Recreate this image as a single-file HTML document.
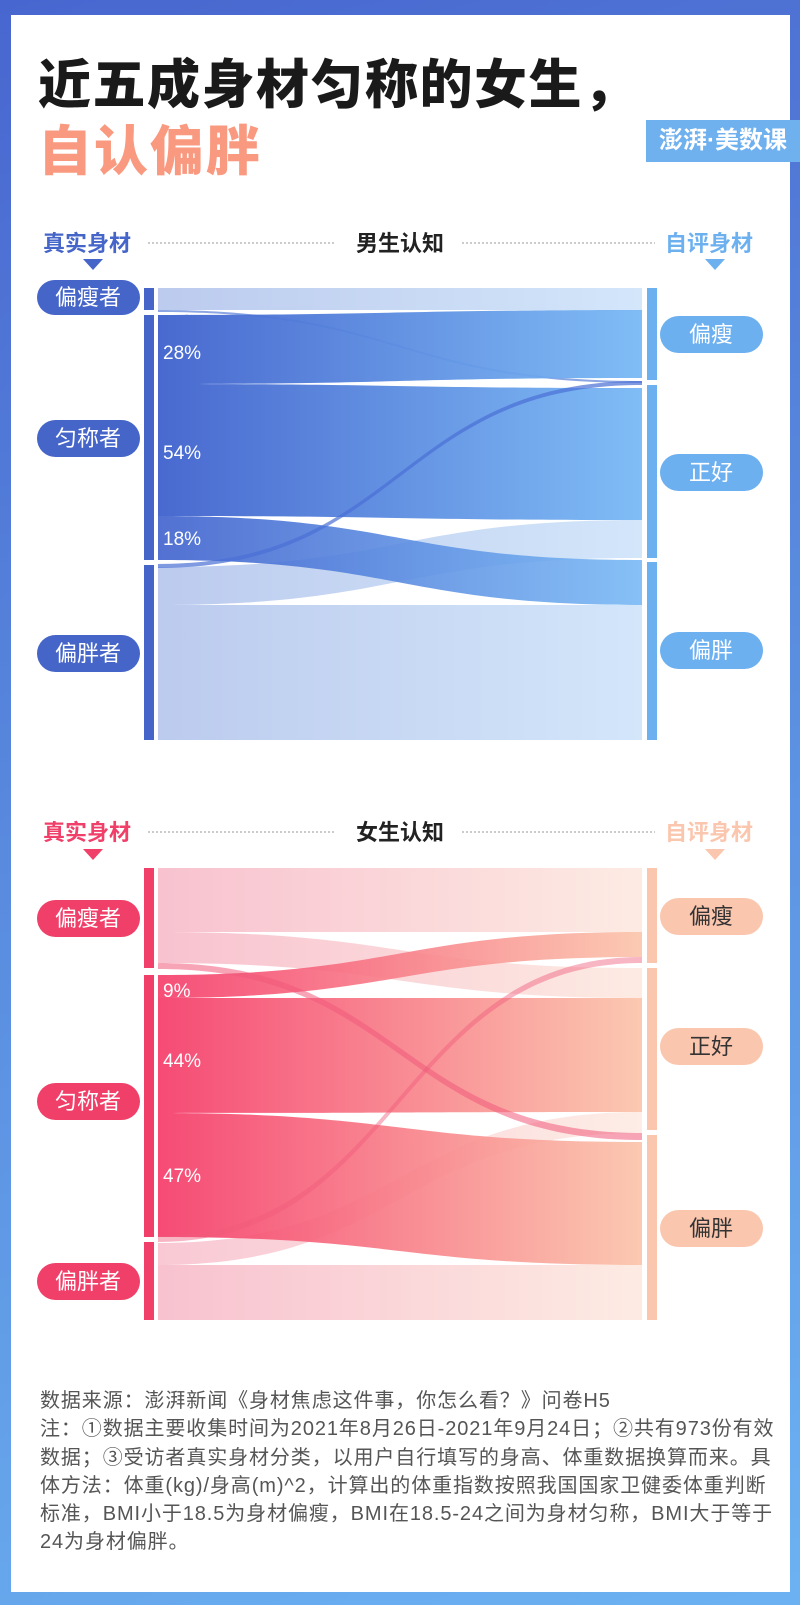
<!DOCTYPE html>
<html><head><meta charset="utf-8">
<style>
html,body{margin:0;padding:0;}
body{width:800px;height:1605px;overflow:hidden;background:linear-gradient(160deg,#4866cf 0%,#5a8ee0 50%,#6cb2f2 100%);position:relative;font-family:"Liberation Sans","Noto Sans CJK SC",sans-serif;}
.card{position:absolute;left:11px;top:15px;width:779px;height:1577px;background:#fff;}
.t1{position:absolute;left:38px;top:43px;font-size:53px;font-weight:900;color:#1a1a1a;letter-spacing:1.5px;white-space:nowrap;}
.t2{position:absolute;left:38px;top:107px;font-size:54px;font-weight:900;color:#f99a80;letter-spacing:2px;}
.logo{position:absolute;left:646px;top:120px;width:154px;height:42px;background:#6fb0ee;color:#fff;font-size:24px;line-height:42px;text-align:center;font-weight:bold;}
.foot{position:absolute;left:40px;top:1387px;font-size:20px;line-height:28.3px;color:#555;white-space:nowrap;letter-spacing:0.9px;}
svg{position:absolute;left:0;top:0;}
</style></head><body>
<div class="card"></div>
<div class="t1">近五成身材匀称的女生，</div>
<div class="t2">自认偏胖</div>
<div class="logo">澎湃·美数课</div>
<svg width="800" height="1605" viewBox="0 0 800 1605" font-family="Liberation Sans, Noto Sans CJK SC, sans-serif">
<defs>
<linearGradient id="bd" x1="0" x2="1"><stop offset="0" stop-color="#3f61cd"/><stop offset="1" stop-color="#79b9f5"/></linearGradient>
<linearGradient id="bl" x1="0" x2="1"><stop offset="0" stop-color="#bccbee"/><stop offset="1" stop-color="#d3e6fa"/></linearGradient>
<linearGradient id="pd" x1="0" x2="1"><stop offset="0" stop-color="#f53b69"/><stop offset="1" stop-color="#fbc4aa"/></linearGradient>
<linearGradient id="pl" x1="0" x2="1"><stop offset="0" stop-color="#f8c2cf"/><stop offset="1" stop-color="#fdebe3"/></linearGradient>
</defs>
<text x="43" y="251" font-size="22" font-weight="bold" fill="#4565c8">真实身材</text>
<line x1="148" y1="243" x2="335" y2="243" stroke="#999" stroke-dasharray="2,2"/>
<text x="400" y="251" font-size="22" font-weight="bold" fill="#222" text-anchor="middle">男生认知</text>
<line x1="462" y1="243" x2="655" y2="243" stroke="#999" stroke-dasharray="2,2"/>
<text x="665" y="251" font-size="22" font-weight="bold" fill="#6cb0f0">自评身材</text>
<polygon points="83,259 103,259 93,270" fill="#4565c8"/>
<polygon points="705,259 725,259 715,270" fill="#6cb0f0"/>
<rect x="144" y="288" width="10" height="22" fill="#4565c8"/>
<rect x="144" y="315" width="10" height="245" fill="#4565c8"/>
<rect x="144" y="565" width="10" height="175" fill="#4565c8"/>
<rect x="647" y="288" width="10" height="92" fill="#6cb0f0"/>
<rect x="647" y="385" width="10" height="173" fill="#6cb0f0"/>
<rect x="647" y="562" width="10" height="178" fill="#6cb0f0"/>
<path d="M158,288 C400,288 400,288 642,288 L642,310 C400,310 400,310 158,310Z" fill="url(#bl)"/>
<path d="M158,605 C400,605 400,605 642,605 L642,740 C400,740 400,740 158,740Z" fill="url(#bl)"/>
<path d="M158,567 C400,567 400,520 642,520 L642,558 C400,558 400,605 158,605Z" fill="url(#bl)"/>
<path d="M158,310 C400,310 400,381 642,381 L642,383 C400,383 400,312 158,312Z" fill="#6f8fdc" opacity="0.8"/>
<path d="M158,315 C400,315 400,310 642,310 L642,378 C400,378 400,384 158,384Z" fill="url(#bd)" opacity="0.95"/>
<path d="M158,384 C400,384 400,388 642,388 L642,520 C400,520 400,516 158,516Z" fill="url(#bd)" opacity="0.95"/>
<path d="M158,516 C400,516 400,560 642,560 L642,605 C400,605 400,560 158,560Z" fill="url(#bd)" opacity="0.9"/>
<path d="M158,564 C400,564 400,381 642,381 L642,385 C400,385 400,568 158,568Z" fill="#4a6fd6" opacity="0.7"/>
<text x="163" y="359" font-size="19" fill="#fff">28%</text>
<text x="163" y="459" font-size="19" fill="#fff">54%</text>
<text x="163" y="545" font-size="19" fill="#fff">18%</text>
<rect x="37" y="280" width="103" height="35" rx="17.5" fill="#4565c8"/>
<text x="88" y="305" font-size="22" fill="#fff" text-anchor="middle">偏瘦者</text>
<rect x="37" y="420" width="103" height="37" rx="18.5" fill="#4565c8"/>
<text x="88" y="446" font-size="22" fill="#fff" text-anchor="middle">匀称者</text>
<rect x="37" y="635" width="103" height="37" rx="18.5" fill="#4565c8"/>
<text x="88" y="661" font-size="22" fill="#fff" text-anchor="middle">偏胖者</text>
<rect x="660" y="316" width="103" height="37" rx="18.5" fill="#6cb0f0"/>
<text x="711" y="342" font-size="22" fill="#fff" text-anchor="middle">偏瘦</text>
<rect x="660" y="454" width="103" height="37" rx="18.5" fill="#6cb0f0"/>
<text x="711" y="480" font-size="22" fill="#fff" text-anchor="middle">正好</text>
<rect x="660" y="632" width="103" height="37" rx="18.5" fill="#6cb0f0"/>
<text x="711" y="658" font-size="22" fill="#fff" text-anchor="middle">偏胖</text>

<text x="43" y="840" font-size="22" font-weight="bold" fill="#f0406a">真实身材</text>
<line x1="148" y1="832" x2="335" y2="832" stroke="#999" stroke-dasharray="2,2"/>
<text x="400" y="840" font-size="22" font-weight="bold" fill="#222" text-anchor="middle">女生认知</text>
<line x1="462" y1="832" x2="655" y2="832" stroke="#999" stroke-dasharray="2,2"/>
<text x="665" y="840" font-size="22" font-weight="bold" fill="#fbc6ae">自评身材</text>
<polygon points="83,849 103,849 93,860" fill="#f0406a"/>
<polygon points="705,849 725,849 715,860" fill="#fbc6ae"/>
<rect x="144" y="868" width="10" height="100" fill="#f0406a"/>
<rect x="144" y="975" width="10" height="262" fill="#f0406a"/>
<rect x="144" y="1242" width="10" height="78" fill="#f0406a"/>
<rect x="647" y="868" width="10" height="95" fill="#fbc6ae"/>
<rect x="647" y="968" width="10" height="162" fill="#fbc6ae"/>
<rect x="647" y="1135" width="10" height="185" fill="#fbc6ae"/>
<path d="M158,868 C400,868 400,868 642,868 L642,932 C400,932 400,932 158,932Z" fill="url(#pl)"/>
<path d="M158,932 C400,932 400,968 642,968 L642,998 C400,998 400,963 158,963Z" fill="url(#pl)"/>
<path d="M158,1265 C400,1265 400,1265 642,1265 L642,1320 C400,1320 400,1320 158,1320Z" fill="url(#pl)"/>
<path d="M158,1243 C400,1243 400,1112 642,1112 L642,1133 C400,1133 400,1265 158,1265Z" fill="url(#pl)" opacity="0.9"/>
<path d="M158,975 C400,975 400,932 642,932 L642,957 C400,957 400,998 158,998Z" fill="url(#pd)" opacity="0.9"/>
<path d="M158,998 C400,998 400,998 642,998 L642,1112 C400,1112 400,1113 158,1113Z" fill="url(#pd)" opacity="0.92"/>
<path d="M158,1113 C400,1113 400,1142 642,1142 L642,1265 C400,1265 400,1237 158,1237Z" fill="url(#pd)" opacity="0.92"/>
<path d="M158,963 C400,963 400,1133 642,1133 L642,1140 C400,1140 400,969 158,969Z" fill="#f05a7a" opacity="0.55"/>
<path d="M158,1236 C400,1236 400,957 642,957 L642,963 C400,963 400,1242 158,1242Z" fill="#f05a7a" opacity="0.45"/>
<text x="163" y="997" font-size="19" fill="#fff">9%</text>
<text x="163" y="1067" font-size="19" fill="#fff">44%</text>
<text x="163" y="1182" font-size="19" fill="#fff">47%</text>
<rect x="37" y="900" width="103" height="37" rx="18.5" fill="#f0406a"/>
<text x="88" y="926" font-size="22" fill="#fff" text-anchor="middle">偏瘦者</text>
<rect x="37" y="1083" width="103" height="37" rx="18.5" fill="#f0406a"/>
<text x="88" y="1109" font-size="22" fill="#fff" text-anchor="middle">匀称者</text>
<rect x="37" y="1263" width="103" height="37" rx="18.5" fill="#f0406a"/>
<text x="88" y="1289" font-size="22" fill="#fff" text-anchor="middle">偏胖者</text>
<rect x="660" y="898" width="103" height="37" rx="18.5" fill="#fbc6ae"/>
<text x="711" y="924" font-size="22" fill="#333" text-anchor="middle">偏瘦</text>
<rect x="660" y="1028" width="103" height="37" rx="18.5" fill="#fbc6ae"/>
<text x="711" y="1054" font-size="22" fill="#333" text-anchor="middle">正好</text>
<rect x="660" y="1210" width="103" height="37" rx="18.5" fill="#fbc6ae"/>
<text x="711" y="1236" font-size="22" fill="#333" text-anchor="middle">偏胖</text>
</svg>
<div class="foot">数据来源：澎湃新闻《身材焦虑这件事，你怎么看？》问卷H5<br>注：①数据主要收集时间为2021年8月26日-2021年9月24日；②共有973份有效<br>数据；③受访者真实身材分类，以用户自行填写的身高、体重数据换算而来。具<br>体方法：体重(kg)/身高(m)^2，计算出的体重指数按照我国国家卫健委体重判断<br>标准，BMI小于18.5为身材偏瘦，BMI在18.5-24之间为身材匀称，BMI大于等于<br>24为身材偏胖。</div>
</body></html>
